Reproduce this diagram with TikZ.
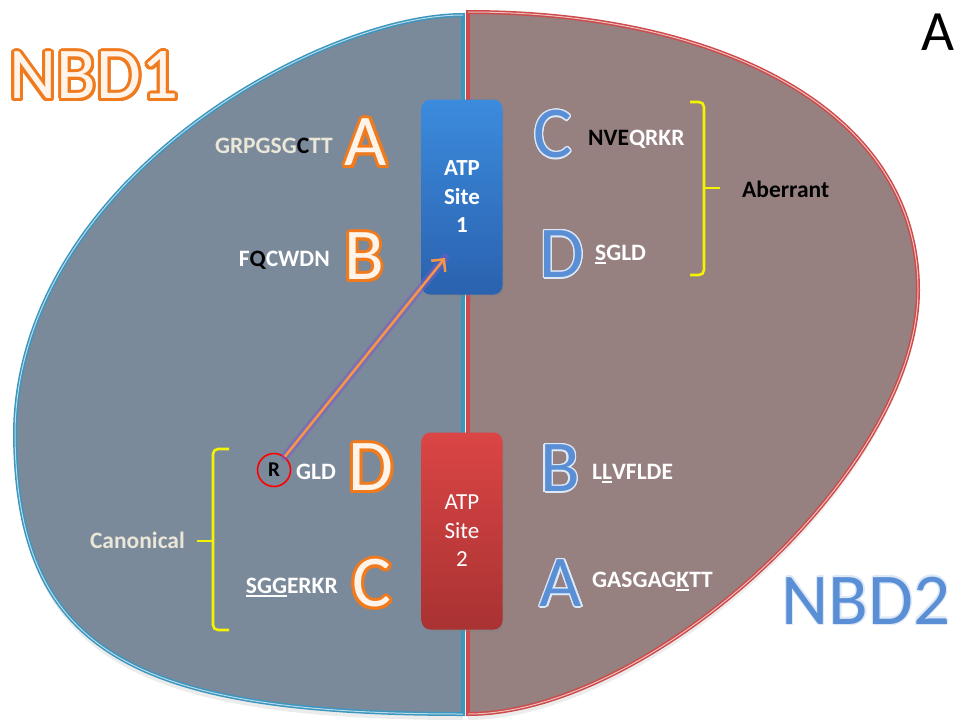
\documentclass[tikz,border=0pt]{standalone}
\usepackage{fontspec}
\setmainfont{Carlito}
\usepackage{contour}
\usetikzlibrary{arrows.meta,shadows}

\definecolor{nbdgray}{HTML}{7B8A9A}
\definecolor{nbdedge}{HTML}{3A96BE}
\definecolor{nbdrose}{HTML}{978080}
\definecolor{roseedge}{HTML}{CD4A4A}
\definecolor{siteblue}{HTML}{3C8BDD}
\definecolor{sitebluedark}{HTML}{2A62AE}
\definecolor{sitered}{HTML}{DB4545}
\definecolor{siterreddark}{HTML}{A93232}
\definecolor{nbdorange}{HTML}{F07A1E}
\definecolor{cream}{HTML}{FFF4EA}
\definecolor{letterblue}{HTML}{5A8FD6}
\definecolor{seqcream}{HTML}{EAE6D8}
\definecolor{braceyellow}{HTML}{F4F400}
\definecolor{arroworange}{HTML}{F79646}
\definecolor{glowpurple}{HTML}{7C5CC4}

\newcommand{\uln}[1]{\setbox0\hbox{#1}\rlap{\rule[-3.5pt]{\wd0}{1.6pt}}\box0}
\newcommand{\orangechar}[1]{\textcolor{cream}{\contourlength{3pt}\contour{nbdorange}{#1}}}
\newcommand{\bluechar}[1]{\textcolor{letterblue}{\contourlength{1.3pt}\contour{white!80!letterblue}{#1}}}

\begin{document}
\begin{tikzpicture}[x=1pt, y=-1pt,
	seq/.style={font=\fontsize{23.5}{25}\selectfont\bfseries, text=white, inner sep=0pt},
	bigchar/.style={font=\fontsize{73}{73}\selectfont, inner sep=0pt},
	sitebox/.style={rounded corners=9pt, minimum width=81pt, align=center, text=white, inner sep=0pt,
		drop shadow={opacity=0.35, shadow xshift=1pt, shadow yshift=-2pt}},
	half/.style={line width=4pt, drop shadow={opacity=0.15, shadow xshift=0pt, shadow yshift=-6pt}},
	brace/.style={draw=braceyellow, line width=2.6pt, rounded corners=5pt}]
	\useasboundingbox (0,0) rectangle (967,726);
	
	\path[half, fill=nbdgray, draw=nbdedge] (463,15) .. controls (320,15) and (20,180) .. (15,430)
		.. controls (15,650) and (130,714) .. (463,714) -- cycle;
	\path[half, fill=nbdrose, draw=roseedge] (468,12) .. controls (720,12) and (918,110) .. (918,290)
		.. controls (918,470) and (650,714) .. (468,714) -- cycle;
	\draw[white!65!nbdedge, line width=1pt] (463,15) .. controls (320,15) and (20,180) .. (15,430)
		.. controls (15,650) and (130,714) .. (463,714);
	\draw[white!65!roseedge, line width=1pt] (468,12) .. controls (720,12) and (918,110) .. (918,290)
		.. controls (918,470) and (650,714) .. (468,714);
	
	\node[sitebox, minimum height=195pt, top color=siteblue, bottom color=sitebluedark,
		font=\fontsize{23}{28.5}\selectfont\bfseries] (site1) at (462,197) {ATP\\Site\\1};
	\node[sitebox, minimum height=197pt, top color=sitered, bottom color=siterreddark,
		font=\fontsize{23}{28.5}\selectfont] (site2) at (462,531) {ATP\\Site\\2};
	
	\node[font=\fontsize{73}{73}\selectfont, inner sep=0pt] (nbd1) at (94,77) {\orangechar{NBD1}};
	\node[font=\fontsize{73}{73}\selectfont, inner sep=0pt] (nbd2) at (866,601) {\bluechar{NBD2}};
	\node[font=\fontsize{57}{57}\selectfont, inner sep=0pt] (panel) at (938,32) {A};
	
	\node[bigchar] (a1) at (366,144) {\orangechar{A}};
	\node[bigchar] (b1) at (364,258) {\orangechar{B}};
	\node[bigchar] (d1) at (371,469) {\orangechar{D}};
	\node[bigchar] (c1) at (372,585) {\orangechar{C}};
	\node[bigchar] (c2) at (553,135) {\bluechar{C}};
	\node[bigchar] (d2) at (562,255) {\bluechar{D}};
	\node[bigchar] (b2) at (560,469) {\bluechar{B}};
	\node[bigchar] (a2) at (561,584) {\bluechar{A}};
	
	\node[seq, text=seqcream, anchor=base east] (walkera1) at (333,153) {GRPGSG\textcolor{black}{C}TT};
	\node[seq, anchor=base east] (qloop1) at (330,266) {F\textcolor{black}{Q}CWDN};
	\node[circle, draw=red, line width=1.6pt, minimum size=33pt, inner sep=0pt,
		font=\fontsize{21}{21}\selectfont\bfseries] (rmark) at (274,470) {R};
	\node[seq, anchor=base west] (walkerb1) at (296,479) {GLD};
	\node[seq, anchor=base east] (sig1) at (338,593) {\uln{SGG}ERKR};
	\node[seq, text=seqcream, font=\fontsize{23.5}{25}\selectfont\bfseries, anchor=base east] (canon) at (185,548) {Canonical};
	
	\node[seq, anchor=base west] (sig2) at (588,145) {\textcolor{black}{NVE}QRKR};
	\node[seq, anchor=base west] (walkerb2) at (595,260) {\uln{S}GLD};
	\node[seq, text=black, anchor=base west] (aberr) at (742,197) {Aberrant};
	\node[seq, anchor=base west] (qloop2) at (592,479) {L\uln{L}VFLDE};
	\node[seq, anchor=base west] (walkera2) at (592,587) {GASGAG\uln{K}TT};
	
	\draw[brace] (229,449) -| (213,630) -- (229,630);
	\draw[brace] (213,541) -- (197,541);
	\draw[brace] (690,102) -| (704,275) -- (690,275);
	\draw[brace] (704,188) -- (720,188);
	
	\coordinate (tip) at (445,258);
	\draw[glowpurple, opacity=0.55, line width=8pt, line cap=round] (rmark) -- (tip);
	\draw[arroworange, line width=2.5pt, -{Straight Barb[length=9pt, width=18pt]}] (rmark) -- (tip);
\end{tikzpicture}
\end{document}
